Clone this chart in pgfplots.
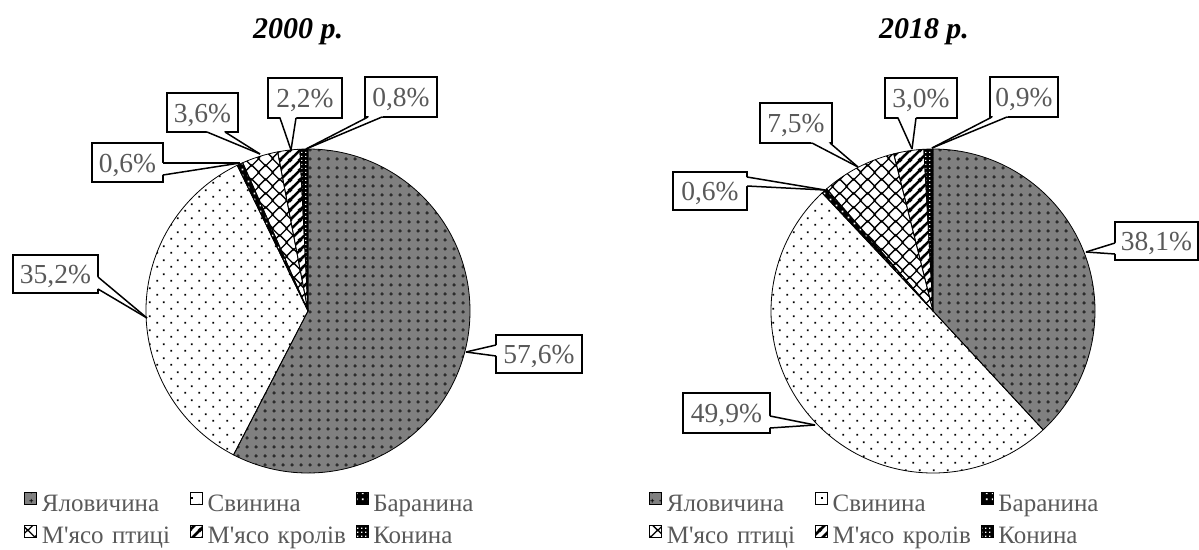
\documentclass[border=0pt]{standalone}
\usepackage{fontspec}
\setmainfont{Liberation Serif}[Ligatures=TeXOff]
\usepackage{pgfplots}
\pgfplotsset{compat=1.18}
\usepackage{pgfplotstable}
\usetikzlibrary{patterns}

\definecolor{txt}{HTML}{595959}

% ---------- patterns ----------
\pgfdeclarepatternformonly{sdots}{\pgfqpoint{0bp}{0bp}}{\pgfqpoint{14bp}{14bp}}{\pgfqpoint{14bp}{14bp}}{%
  \pgfpathrectangle{\pgfqpoint{2.5bp}{2.5bp}}{\pgfqpoint{1.8bp}{1.8bp}}%
  \pgfpathrectangle{\pgfqpoint{9.5bp}{9.5bp}}{\pgfqpoint{1.8bp}{1.8bp}}%
  \pgfusepath{fill}}
\pgfdeclarepatternformonly{plusgrid}{\pgfqpoint{0bp}{0bp}}{\pgfqpoint{9bp}{9bp}}{\pgfqpoint{9bp}{9bp}}{%
  \pgfsetlinewidth{0.9bp}%
  \pgfpathmoveto{\pgfqpoint{2.5bp}{4.5bp}}\pgfpathlineto{\pgfqpoint{6.5bp}{4.5bp}}%
  \pgfpathmoveto{\pgfqpoint{4.5bp}{2.5bp}}\pgfpathlineto{\pgfqpoint{4.5bp}{6.5bp}}%
  \pgfusepath{stroke}}
\pgfdeclarepatternformonly{dcross}{\pgfqpoint{0bp}{0bp}}{\pgfqpoint{14bp}{14bp}}{\pgfqpoint{14bp}{14bp}}{%
  \pgfsetlinewidth{1.4bp}%
  \pgfpathmoveto{\pgfqpoint{-2bp}{9bp}}\pgfpathlineto{\pgfqpoint{9bp}{-2bp}}%
  \pgfpathmoveto{\pgfqpoint{5bp}{-2bp}}\pgfpathlineto{\pgfqpoint{16bp}{9bp}}%
  \pgfpathmoveto{\pgfqpoint{16bp}{5bp}}\pgfpathlineto{\pgfqpoint{5bp}{16bp}}%
  \pgfpathmoveto{\pgfqpoint{9bp}{16bp}}\pgfpathlineto{\pgfqpoint{-2bp}{5bp}}%
  \pgfusepath{stroke}}
\pgfdeclarepatternformonly{wstripes}{\pgfqpoint{0bp}{0bp}}{\pgfqpoint{10bp}{10bp}}{\pgfqpoint{10bp}{10bp}}{%
  \pgfsetlinewidth{2.8bp}%
  \pgfpathmoveto{\pgfqpoint{-2bp}{-2bp}}\pgfpathlineto{\pgfqpoint{12bp}{12bp}}%
  \pgfpathmoveto{\pgfqpoint{-2bp}{8bp}}\pgfpathlineto{\pgfqpoint{2bp}{12bp}}%
  \pgfpathmoveto{\pgfqpoint{8bp}{-2bp}}\pgfpathlineto{\pgfqpoint{12bp}{2bp}}%
  \pgfusepath{stroke}}
\pgfdeclarepatternformonly{wdots}{\pgfqpoint{0bp}{0bp}}{\pgfqpoint{4bp}{4bp}}{\pgfqpoint{4bp}{4bp}}{%
  \pgfpathrectangle{\pgfqpoint{1.3bp}{1.3bp}}{\pgfqpoint{1.4bp}{1.4bp}}%
  \pgfusepath{fill}}
\pgfdeclarepatternformonly{bsq}{\pgfqpoint{0bp}{0bp}}{\pgfqpoint{6bp}{6bp}}{\pgfqpoint{6bp}{6bp}}{%
  \pgfpathrectangle{\pgfqpoint{2bp}{2bp}}{\pgfqpoint{2bp}{2bp}}%
  \pgfusepath{fill}}

\tikzset{
  pie0/.style={fill=black!50, postaction={pattern=plusgrid, pattern color=black}},
  pie1/.style={fill=white, postaction={pattern=sdots, pattern color=black}},
  pie2/.style={fill=black, postaction={pattern=bsq, pattern color=white}},
  pie3/.style={fill=white, postaction={pattern=dcross, pattern color=black}},
  pie4/.style={fill=white, postaction={pattern=wstripes, pattern color=black}},
  pie5/.style={fill=black, postaction={pattern=wdots, pattern color=white}},
}

% ---------- data (values in %, callout geometry in picture pixels) ----------
\pgfplotstableread{
val  bxa  bya  bxb  byb  tx   ty   ax   ay   cx   cy
57.6 496  335  582  373  466  352  496  345  496  356
35.2 13   255  98   293  147  318  98   277  98   289
0.6  92   143  163  182  240  163  163  163  163  175
3.6  167  93   238  132  260  154  207  132  225  132
2.2  268  78   342  118  291  150  280  118  296  118
0.8  365  77   437  117  306  149  368  117  382  117
}\tabA
\pgfplotstableread{
val  bxa  bya  bxb  byb  tx   ty   ax   ay   cx   cy
38.1 1115 222  1198 260  1086 252  1115 243  1115 254
49.9 683  393  770  433  815  425  770  416  770  428
0.6  673  172  747  210  825  190  747  177  747  186
7.5  760  103  832  143  858  167  812  143  830  143
3.0  885  78   957  118  912  149  898  118  916  118
0.9  990  77   1058 117  932  148  992  117  1007 117
}\tabB

\newcommand\getv[3]{\pgfplotstablegetelem{#1}{#2}\of#3\global\expandafter\let\csname cv#2\endcsname\pgfplotsretval}

% #1 table, #2 cx, #3 cy, #4 radius
\newcommand\drawpie[4]{%
  \xdef\curang{90}%
  \foreach \i in {0,...,5}{%
    \getv{\i}{val}{#1}%
    \pgfmathsetmacro\endang{\curang-3.6*\cvval}%
    \path[pie\i] (axis cs:#2,#3) -- ++(\curang:#4) arc[start angle=\curang, end angle=\endang, radius=#4] -- cycle;
    \xdef\curang{\endang}%
  }%
  \xdef\curang{90}%
  \foreach \i in {0,...,5}{%
    \getv{\i}{val}{#1}%
    \pgfmathsetmacro\endang{\curang-3.6*\cvval}%
    \draw[line width=0.8bp, line join=round] (axis cs:#2,#3) -- ++(\curang:#4) arc[start angle=\curang, end angle=\endang, radius=#4] -- cycle;
    \xdef\curang{\endang}%
  }%
}
\newcommand\drawcallouts[1]{%
  \foreach \i in {0,...,5}{%
    \getv{\i}{val}{#1}\getv{\i}{bxa}{#1}\getv{\i}{bya}{#1}\getv{\i}{bxb}{#1}\getv{\i}{byb}{#1}%
    \getv{\i}{tx}{#1}\getv{\i}{ty}{#1}\getv{\i}{ax}{#1}\getv{\i}{ay}{#1}\getv{\i}{cx}{#1}\getv{\i}{cy}{#1}%
    \pgfmathsetmacro\mx{(\cvbxa+\cvbxb)/2}%
    \pgfmathsetmacro\my{(\cvbya+\cvbyb)/2}%
    \pgfmathsetmacro\bl{\my+9.5}%
    \filldraw[fill=white, draw=black, line width=1.5bp] (axis cs:\cvbxa,\cvbya) rectangle (axis cs:\cvbxb,\cvbyb);
    \fill[white] (axis cs:\cvtx,\cvty) -- (axis cs:\cvax,\cvay) -- (axis cs:\mx,\my) -- (axis cs:\cvcx,\cvcy) -- cycle;
    \draw[line width=1.5bp] (axis cs:\cvax,\cvay) -- (axis cs:\cvtx,\cvty);
    \draw[line width=1.5bp] (axis cs:\cvcx,\cvcy) -- (axis cs:\cvtx,\cvty);
    \node[anchor=base, text=txt, inner sep=0pt, font=\fontsize{27.5bp}{32bp}\selectfont] at (axis cs:\mx,\bl)
      {\pgfmathprintnumber[assume math mode=true, fixed, fixed zerofill, precision=1, use comma]{\cvval}\%};
  }%
}

\pgfplotsset{
  piechart/.style={
    x=1bp, y=1bp, ymin=0, ymax=550, y dir=reverse,
    hide axis, clip=false, anchor=south west,
    legend columns=3,
    legend image code/.code={\draw[##1, draw=black, line width=0.7bp] (0bp,1bp) rectangle (12bp,13bp);},
    legend style={draw=none, fill=none, anchor=north west, inner sep=0pt,
      font=\fontsize{25bp}{30bp}\selectfont, text=txt,
      nodes={font=\fontsize{25bp}{30bp}\selectfont, text=txt, text width=143bp, align=left,
             inner xsep=5bp, inner ysep=0bp, text height=18bp, text depth=7bp},
      row sep=7bp},
  },
}

\begin{document}
\begin{tikzpicture}
\useasboundingbox (0,0) rectangle (1199bp,550bp);
\begin{axis}[piechart, at={(0bp,0bp)}, xmin=0, xmax=600,
    legend style={at={(axis description cs:0.0400,0.1055)}}]
  \addlegendimage{pie0}\addlegendentry{\mbox{Яловичина}}
  \addlegendimage{pie1}\addlegendentry{\mbox{Свинина}}
  \addlegendimage{pie2}\addlegendentry{\mbox{Баранина}}
  \addlegendimage{pie3}\addlegendentry{\mbox{М'ясо птиці}}
  \addlegendimage{pie4}\addlegendentry{\mbox{М'ясо кролів}}
  \addlegendimage{pie5}\addlegendentry{\mbox{Конина}}
  \pgfplotsextra{\drawpie{\tabA}{308}{311}{162bp}\drawcallouts{\tabA}}
  \node[anchor=base, font=\fontsize{30bp}{36bp}\selectfont\bfseries\itshape] at (axis cs:298,38) {2000 р.};
\end{axis}
\begin{axis}[piechart, at={(600bp,0bp)}, xmin=600, xmax=1199,
    legend style={at={(axis description cs:0.0818,0.1055)}}]
  \addlegendimage{pie0}\addlegendentry{\mbox{Яловичина}}
  \addlegendimage{pie1}\addlegendentry{\mbox{Свинина}}
  \addlegendimage{pie2}\addlegendentry{\mbox{Баранина}}
  \addlegendimage{pie3}\addlegendentry{\mbox{М'ясо птиці}}
  \addlegendimage{pie4}\addlegendentry{\mbox{М'ясо кролів}}
  \addlegendimage{pie5}\addlegendentry{\mbox{Конина}}
  \pgfplotsextra{\drawpie{\tabB}{933}{311}{162bp}\drawcallouts{\tabB}}
  \node[anchor=base, font=\fontsize{30bp}{36bp}\selectfont\bfseries\itshape] at (axis cs:924,38) {2018 р.};
\end{axis}
\end{tikzpicture}
\end{document}
